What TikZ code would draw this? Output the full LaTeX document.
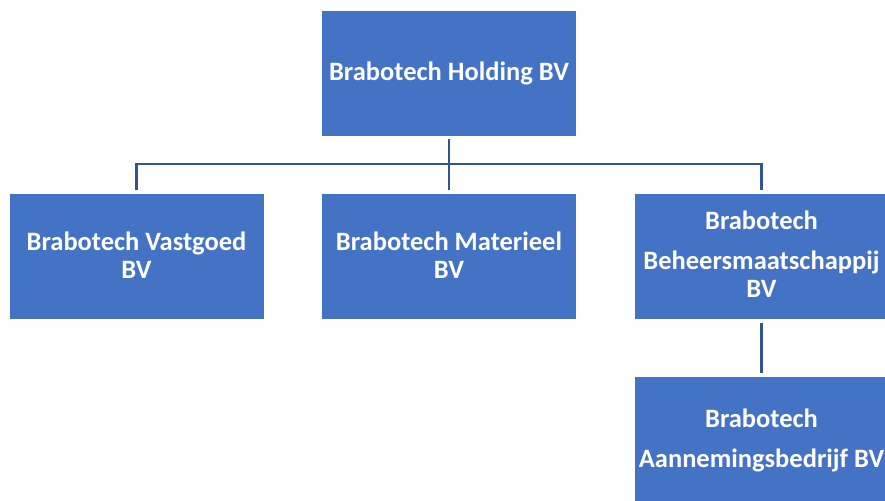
\documentclass[tikz,border=0pt]{standalone}
\usepackage{fontspec}
\setmainfont{Carlito}
\definecolor{boxblue}{HTML}{4472C4}
\definecolor{linkblue}{HTML}{2F5597}
\begin{document}
\begin{tikzpicture}[x=1pt,y=-1pt,
  orgbox/.style={rectangle,fill=boxblue,draw=white,line width=0.8pt,minimum width=255pt,minimum height=126pt,inner sep=0pt},
  lbl/.style={anchor=base,text=white,font=\fontsize{26.5}{30}\selectfont\bfseries,inner sep=0pt},
  conn/.style={draw=linkblue,line width=2.8pt,shorten <=3pt,shorten >=3pt}]
\useasboundingbox (0,0) rectangle (885,500);
\clip (0,0) rectangle (885,500);
\node[orgbox] (hold) at (449,73) {};
\node[orgbox] (vast) at (136.5,256.3) {};
\node[orgbox] (mat) at (449,256.3) {};
\node[orgbox] (beh) at (761.5,256.3) {};
\node[orgbox] (aan) at (761.5,439.7) {};
\coordinate (bus) at (449,164);
\node[lbl] (t1) at (449,81) {Brabotech Holding BV};
\node[lbl] (t2a) at (136.5,250) {Brabotech Vastgoed};
\node[lbl] (t2b) at (136.5,278) {BV};
\node[lbl] (t3a) at (449,250) {Brabotech Materieel};
\node[lbl] (t3b) at (449,278) {BV};
\node[lbl] (t4a) at (761.5,229) {Brabotech};
\node[lbl] (t4b) at (761.5,269) {Beheersmaatschappij};
\node[lbl] (t4c) at (761.5,297) {BV};
\node[lbl] (t5a) at (761.5,427) {Brabotech};
\node[lbl] (t5b) at (761.5,467) {Aannemingsbedrijf BV};
\draw[conn] (hold.south) -- (mat.north);
\draw[conn] (vast.north) -- (vast.north |- bus) -| (beh.north);
\draw[conn] (beh.south) -- (aan.north);
\end{tikzpicture}
\end{document}
